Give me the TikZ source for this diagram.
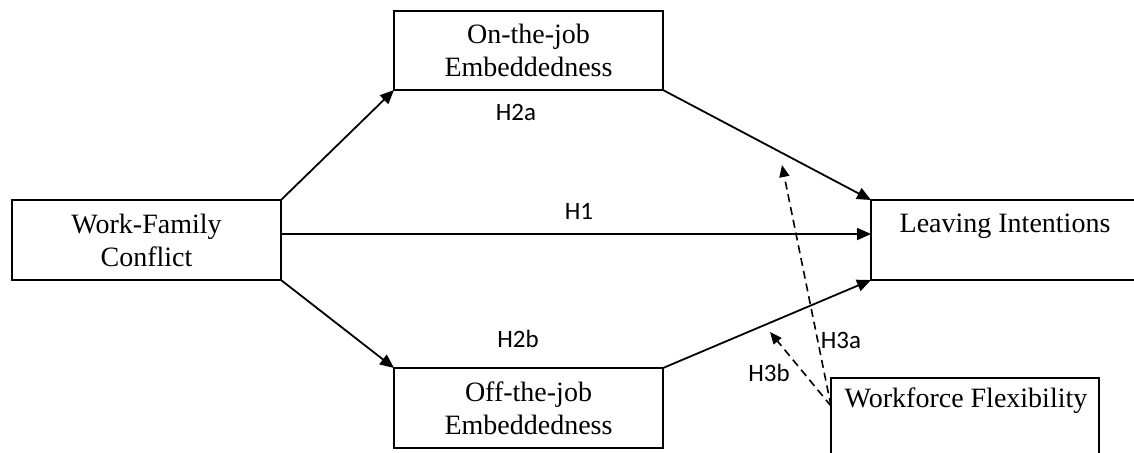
\documentclass[tikz,border=0pt]{standalone}
\usepackage{fontspec}
\setmainfont{Liberation Serif}
\newfontfamily\labfont{Carlito}
\usetikzlibrary{arrows.meta}
\begin{document}
\begin{tikzpicture}[x=0.5pt,y=-0.5pt,
  box/.style={draw, line width=0.9pt, inner sep=0pt, outer sep=0pt, align=center,
    font=\fontsize{14}{16.5}\selectfont},
  boxtext/.style={inner sep=0pt, font=\fontsize{14}{16.5}\selectfont},
  arr/.style={line width=0.9pt, -{Triangle[length=7pt,width=6pt]}},
  darr/.style={line width=0.8pt, dash pattern=on 4pt off 2.5pt, -{Triangle[length=6pt,width=5pt]}},
  hlab/.style={inner sep=0pt, font=\labfont\fontsize{12.5}{14}\selectfont}]
\clip (0,0) rectangle (1134,452);
\fill[white] (0,0) rectangle (1134,452);
\node[box, minimum width=134.5pt, minimum height=40pt] (wfc) at (146.5,240) {Work-Family\\Conflict};
\node[box, minimum width=134.5pt, minimum height=39.5pt] (onj) at (528.5,50.5) {On-the-job\\Embeddedness};
\node[box, minimum width=134.5pt, minimum height=40pt] (offj) at (528.5,408) {Off-the-job\\Embeddedness};
\node[box, minimum width=134.5pt, minimum height=40pt] (li) at (1005.5,240) {};
\node[boxtext] (litext) at (1005,226) {Leaving Intentions};
\node[box, minimum width=134pt, minimum height=46pt] (wflex) at (965,424) {};
\node[boxtext] (wflextext) at (966,401) {Workforce Flexibility};
\draw[arr] (wfc.north east) -- (onj.south west);
\draw[arr] ([yshift=3pt]wfc.east) -- ([yshift=3pt]li.west);
\draw[arr] (wfc.south east) -- (offj.north west);
\draw[arr] (onj.south east) -- (li.north west);
\draw[arr] (offj.north east) -- (li.south west);
\coordinate (src) at ([yshift=-14pt]wflex.north west);
\coordinate (h3atip) at (782,165);
\coordinate (h3btip) at (770,332);
\draw[darr] (src) -- (h3atip);
\draw[darr] (src) -- (h3btip);
\node[hlab] (h2a) at (516,112) {H2a};
\node[hlab] (h2b) at (518,339) {H2b};
\node[hlab] (h1) at (579,211) {H1};
\node[hlab] (h3a) at (841,340) {H3a};
\node[hlab] (h3b) at (769,373) {H3b};
\end{tikzpicture}
\end{document}
